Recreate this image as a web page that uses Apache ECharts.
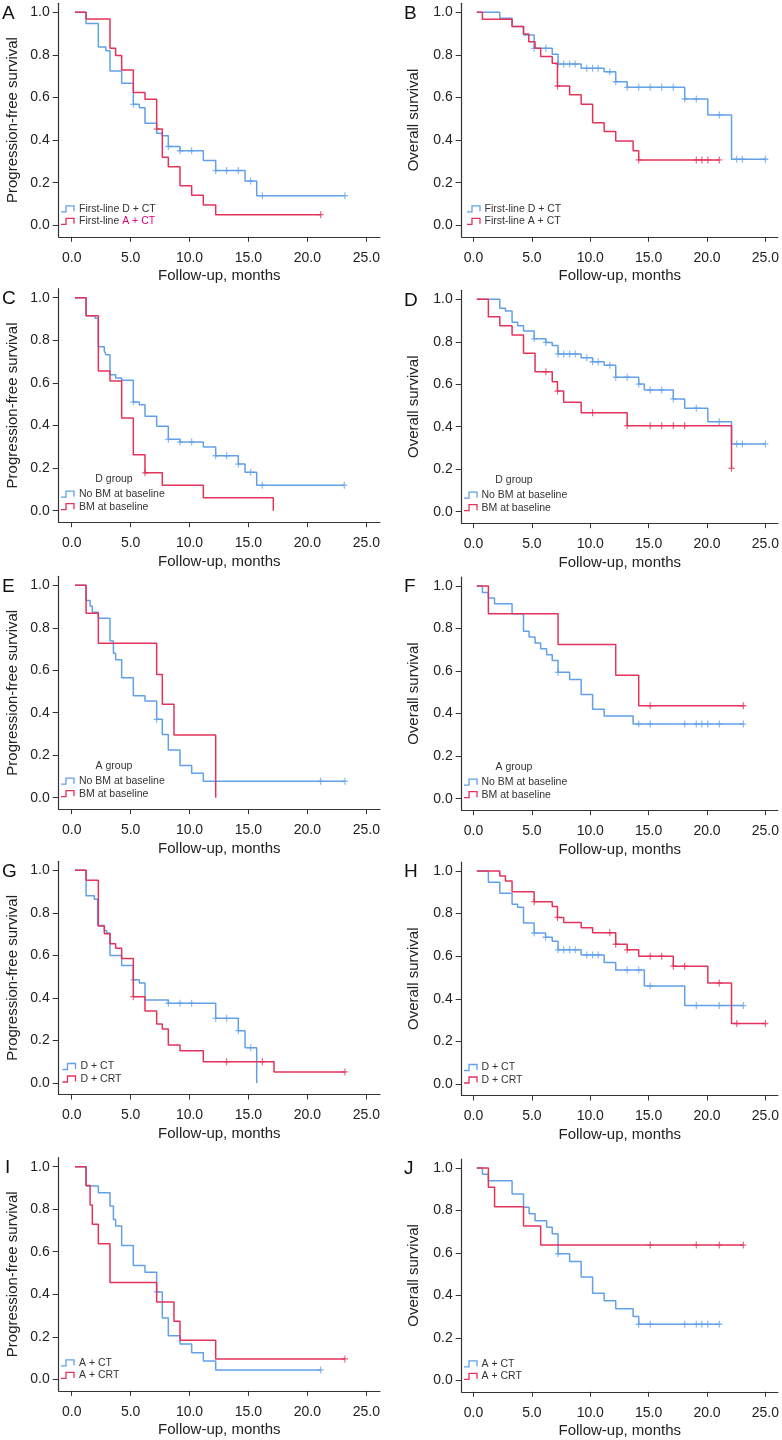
<!DOCTYPE html>
<html>
<head>
<meta charset="utf-8">
<script src="https://cdn.jsdelivr.net/npm/echarts@6/dist/echarts.min.js"></script>
<style>
  html, body { margin: 0; padding: 0; background: #fff; }
  #chart { width: 782px; height: 1440px; }
</style>
</head>
<body>
<div id="chart"></div>
<script>
// tick labels
const xTicks = [0, 5, 10, 15, 20, 25];
const yTicks = [0, 0.2, 0.4, 0.6, 0.8, 1.0];

// KM steps: [month, survival after that time]; censor times in months
// A - PFS, first-line
const aDct = [[0.28,1],[1.22,0.947],[2.26,0.837],[2.9,0.82],[3.25,0.725],[4.24,0.667],[5.23,0.568],[5.74,0.552],[6.22,0.479],[7.21,0.432],[7.69,0.42],[8.2,0.37],[9.19,0.35],[11.17,0.304],[12.22,0.257],[14.71,0.208],[15.7,0.139],[23.19,0.139]];
const aDctCens = [5.23, 8.2, 9.19, 10.18, 12.22, 13.15, 14.14, 15.19, 16.18, 23.19];
const aAct = [[0.28,1],[1.22,0.969],[3.25,0.831],[3.73,0.797],[4.24,0.729],[5.23,0.623],[6.22,0.592],[7.21,0.452],[7.69,0.319],[8.2,0.275],[9.19,0.186],[10.18,0.141],[11.17,0.095],[12.22,0.05],[21.13,0.05]];
const aActCens = [7.21, 21.13];

// B - OS, first-line
const bDct = [[0.28,1],[2.25,0.972],[3.3,0.933],[4.28,0.894],[5.19,0.831],[6.74,0.803],[7.24,0.757],[9.22,0.737],[11.19,0.721],[12.18,0.674],[13.16,0.648],[18.09,0.593],[20.07,0.518],[22.1,0.31],[25.0,0.31]];
const bDctCens = [5.19, 6.2, 7.24, 7.72, 8.23, 8.71, 9.7, 10.2, 10.68, 11.67, 12.18, 13.16, 14.15, 15.13, 16.12, 17.11, 18.09, 19.08, 21.05, 22.55, 23.03, 25.0];
const bAct = [[0.28,1],[0.76,0.967],[3.3,0.933],[4.28,0.898],[4.73,0.862],[5.27,0.831],[5.75,0.792],[6.74,0.761],[7.19,0.654],[8.23,0.613],[9.22,0.568],[10.2,0.482],[11.19,0.44],[12.18,0.396],[13.67,0.35],[14.15,0.307],[21.05,0.307]];
const bActCens = [7.19, 14.15, 19.08, 19.56, 20.07, 21.05];

// C - PFS, D group by BM
const cNoBm = [[0.28,1],[1.22,0.915],[1.98,0.903],[2.26,0.77],[2.77,0.75],[2.91,0.732],[3.25,0.638],[3.73,0.623],[4.24,0.612],[5.23,0.51],[5.74,0.498],[6.22,0.443],[7.21,0.397],[8.2,0.335],[9.19,0.322],[11.17,0.299],[12.22,0.258],[14.14,0.219],[14.71,0.18],[15.7,0.12],[23.13,0.12]];
const cNoBmCens = [5.23, 8.2, 9.19, 10.18, 12.22, 13.15, 14.14, 15.19, 16.18, 23.13];
const cBm = [[0.28,1],[1.22,0.915],[2.26,0.656],[3.25,0.609],[4.24,0.435],[5.23,0.263],[6.22,0.178],[7.69,0.119],[11.17,0.061],[17.11,0]];
const cBmCens = [6.22];

// D - OS, D group by BM
const dNoBm = [[0.28,1],[2.25,0.958],[2.73,0.945],[3.3,0.892],[3.78,0.876],[4.28,0.851],[5.19,0.814],[6.2,0.797],[6.74,0.782],[7.24,0.743],[9.22,0.725],[10.2,0.706],[11.19,0.69],[12.18,0.633],[14.15,0.601],[14.63,0.573],[17.11,0.531],[18.09,0.487],[20.07,0.424],[22.1,0.319],[25.0,0.319]];
const dNoBmCens = [5.19, 6.2, 7.24, 7.72, 8.23, 8.71, 9.7, 10.2, 10.68, 11.67, 12.18, 13.16, 14.15, 15.13, 16.12, 17.11, 19.08, 21.05, 22.55, 23.03, 25.0];
const dBm = [[0.28,1],[1.27,0.918],[2.25,0.876],[3.3,0.832],[4.28,0.746],[5.27,0.659],[6.74,0.612],[7.19,0.568],[7.72,0.515],[9.22,0.466],[13.16,0.405],[22.1,0.204]];
const dBmCens = [6.2, 7.19, 10.2, 13.16, 15.13, 16.12, 17.11, 18.09, 22.1];

// E - PFS, A group by BM
const eNoBm = [[0.28,1],[1.22,0.928],[1.56,0.903],[1.75,0.873],[2.26,0.845],[3.25,0.738],[3.54,0.68],[3.73,0.65],[4.24,0.565],[5.23,0.48],[6.22,0.455],[7.21,0.369],[7.69,0.298],[8.2,0.224],[9.19,0.152],[10.18,0.115],[11.17,0.078],[23.19,0.078]];
const eNoBmCens = [7.21, 21.13, 23.19];
const eBm = [[0.28,1],[1.22,0.868],[2.26,0.727],[7.21,0.58],[7.69,0.44],[8.68,0.295],[12.22,0]];
const eBmCens = [];

// F - OS, A group by BM
const fNoBm = [[0.28,1],[0.76,0.97],[1.27,0.944],[1.8,0.917],[3.3,0.87],[4.28,0.787],[4.76,0.76],[5.27,0.732],[5.75,0.705],[6.26,0.677],[6.74,0.65],[7.24,0.594],[8.23,0.56],[9.22,0.49],[10.2,0.42],[11.19,0.389],[13.67,0.351],[23.11,0.351]];
const fNoBmCens = [7.24, 14.15, 15.13, 18.09, 19.08, 19.56, 20.07, 21.05, 23.11];
const fBm = [[0.28,1],[1.27,0.87],[7.24,0.725],[12.18,0.58],[14.15,0.437],[23.11,0.437]];
const fBmCens = [15.13, 23.11];

// G - PFS, D + CT vs D + CRT
const gCt = [[0.28,1],[1.22,0.88],[1.92,0.864],[2.2,0.74],[2.77,0.716],[2.97,0.705],[3.25,0.6],[4.24,0.552],[5.23,0.485],[5.74,0.47],[6.22,0.39],[8.2,0.375],[12.22,0.304],[14.14,0.246],[14.71,0.166],[15.7,0]];
const gCtCens = [5.23, 8.2, 9.19, 10.18, 12.22, 13.15, 14.14, 15.19];
const gCrt = [[0.28,1],[1.22,0.953],[2.26,0.738],[2.77,0.702],[3.25,0.655],[3.73,0.633],[4.24,0.585],[5.23,0.406],[6.22,0.339],[7.21,0.277],[7.69,0.254],[8.2,0.179],[9.19,0.152],[11.17,0.1],[17.17,0.052],[23.19,0.052]];
const gCrtCens = [5.23, 13.15, 16.18, 23.19];

// H - OS, D + CT vs D + CRT
const hCt = [[0.28,1],[1.27,0.947],[2.25,0.895],[3.3,0.844],[3.78,0.83],[4.28,0.756],[5.19,0.709],[6.17,0.689],[6.74,0.67],[7.24,0.63],[9.22,0.606],[11.19,0.57],[12.18,0.535],[14.63,0.46],[18.09,0.368],[23.11,0.368]];
const hCtCens = [5.19, 6.17, 7.24, 7.72, 8.23, 8.71, 9.7, 10.2, 10.68, 13.16, 14.15, 15.13, 19.08, 21.05, 23.11];
const hCrt = [[0.28,1],[2.25,0.977],[2.73,0.953],[3.3,0.903],[5.19,0.856],[6.74,0.833],[7.19,0.782],[7.72,0.758],[9.22,0.733],[10.2,0.71],[12.18,0.656],[13.16,0.63],[14.15,0.6],[17.11,0.553],[20.07,0.474],[22.1,0.284],[25.0,0.284]];
const hCrtCens = [5.19, 7.19, 11.67, 12.18, 13.16, 15.13, 16.12, 17.11, 18.09, 21.05, 22.55, 25.0];

// I - PFS, A + CT vs A + CRT
const iCt = [[0.28,1],[1.22,0.909],[2.26,0.878],[3.25,0.815],[3.54,0.752],[3.73,0.721],[4.24,0.629],[5.23,0.535],[6.22,0.504],[7.21,0.411],[7.69,0.288],[8.2,0.205],[9.19,0.166],[10.18,0.125],[11.17,0.086],[12.22,0.044],[21.13,0.044]];
const iCtCens = [7.21, 21.13];
const iCrt = [[0.28,1],[1.22,0.911],[1.56,0.82],[1.75,0.729],[2.26,0.638],[3.25,0.455],[7.21,0.364],[8.68,0.273],[9.19,0.184],[12.22,0.096],[23.19,0.096]];
const iCrtCens = [23.19];

// J - OS, A + CT vs A + CRT
const jCt = [[0.28,1],[0.76,0.97],[1.27,0.94],[3.3,0.877],[4.28,0.815],[4.76,0.784],[5.27,0.752],[6.26,0.721],[6.74,0.69],[7.24,0.596],[8.23,0.56],[9.22,0.486],[10.2,0.41],[11.19,0.375],[12.18,0.337],[13.67,0.3],[14.15,0.264],[21.05,0.264]];
const jCtCens = [7.24, 14.15, 15.13, 18.09, 19.08, 19.56, 20.07, 21.05];
const jCrt = [[0.28,1],[1.27,0.909],[1.8,0.818],[4.28,0.727],[5.75,0.637],[23.11,0.637]];
const jCrtCens = [15.13, 19.08, 21.05, 23.11];

const PFS = 'Progression-free survival';
const OS = 'Overall survival';
const firstLine = ['First-line D + CT', '{k|First-line }{p|A + CT}'];
const firstLineB = ['First-line D + CT', 'First-line A + CT'];
const bmLabels = ['No BM at baseline', 'BM at baseline'];
const dLabels = ['D + CT', 'D + CRT'];
const aLabels = ['A + CT', 'A + CRT'];

const FONT = "'Liberation Sans', Arial, Helvetica, sans-serif";
const BLUE = '#62a1e7';
const RED = '#e3335b';
const PINK = '#e4007c';
const AXIS = '#333';

// layout: col, pixel of 1.0 and of 0.0 on the y axis
const panels = [
    { letter: 'A', col: 0, y1: 12.3,   y0: 225.3,  yName: PFS, curves: [aDct, aAct], cens: [aDctCens, aActCens], labels: firstLine },
    { letter: 'B', col: 1, y1: 12.3,   y0: 225.3,  yName: OS,  curves: [bDct, bAct], cens: [bDctCens, bActCens], labels: firstLineB, legendShift: 3 },
    { letter: 'C', col: 0, y1: 297.7,  y0: 510.7,  yName: PFS, curves: [cNoBm, cBm], cens: [cNoBmCens, cBmCens], labels: bmLabels, title: 'D group' },
    { letter: 'D', col: 1, y1: 299.3,  y0: 511.7,  yName: OS,  curves: [dNoBm, dBm], cens: [dNoBmCens, dBmCens], labels: bmLabels, title: 'D group' },
    { letter: 'E', col: 0, y1: 585.3,  y0: 797.7,  yName: PFS, curves: [eNoBm, eBm], cens: [eNoBmCens, eBmCens], labels: bmLabels, title: 'A group' },
    { letter: 'F', col: 1, y1: 586,    y0: 798.7,  yName: OS,  curves: [fNoBm, fBm], cens: [fNoBmCens, fBmCens], labels: bmLabels, title: 'A group' },
    { letter: 'G', col: 0, y1: 870.3,  y0: 1083,   yName: PFS, curves: [gCt, gCrt], cens: [gCtCens, gCrtCens], labels: dLabels, legendShift: 1.5 },
    { letter: 'H', col: 1, y1: 871,    y0: 1084,   yName: OS,  curves: [hCt, hCrt], cens: [hCtCens, hCrtCens], labels: dLabels },
    { letter: 'I', col: 0, y1: 1166.7, y0: 1379.3, yName: PFS, curves: [iCt, iCrt], cens: [iCtCens, iCrtCens], labels: aLabels },
    { letter: 'J', col: 1, y1: 1168,   y0: 1380.3, yName: OS,  curves: [jCt, jCrt], cens: [jCtCens, jCrtCens], labels: aLabels },
];

const cols = [
    { left: 58.7,  width: 321.3, min: -1.103, max: 26.163, letterX: 2,   iconX: 61,  textX: 79,    titleX: 114, yGap: 38 },
    { left: 461.7, width: 320.3, min: -1.015, max: 26.07,  letterX: 404, iconX: 464, textX: 481.5, titleX: 514, yGap: 40 },
];

function survAt(steps, t) {
    let s = steps[0][1];
    for (const p of steps) {
        if (p[0] <= t + 1e-9) s = p[1];
    }
    return s;
}

const option = { animation: false, grid: [], xAxis: [], yAxis: [], series: [], graphic: [] };

panels.forEach((p, i) => {
    const c = cols[p.col];
    const span = p.y0 - p.y1;
    const top = p.y1 - 9;
    const bottom = p.y0 + 11.5;
    option.grid.push({ left: c.left, top: top, width: c.width, height: bottom - top });

    option.xAxis.push({
        type: 'value', gridIndex: i, min: c.min, max: c.max,
        name: 'Follow-up, months', nameLocation: 'middle', nameGap: 32,
        nameTextStyle: { fontSize: 15, color: '#222', fontFamily: FONT },
        axisLine: { onZero: false, lineStyle: { color: AXIS, width: 1.2 } },
        axisTick: { show: true, length: 5, customValues: xTicks, lineStyle: { color: AXIS, width: 1 } },
        axisLabel: { customValues: xTicks, formatter: v => v.toFixed(1), fontSize: 14, color: '#222', margin: 14, fontFamily: FONT },
        splitLine: { show: false }
    });
    option.yAxis.push({
        type: 'value', gridIndex: i, min: -11.5 / span, max: 1 + 9 / span,
        name: p.yName, nameLocation: 'middle', nameGap: c.yGap,
        nameTextStyle: { fontSize: 15, color: '#222', fontFamily: FONT },
        axisLine: { show: true, onZero: false, lineStyle: { color: AXIS, width: 1.2 } },
        axisTick: { show: true, length: 6, customValues: yTicks, lineStyle: { color: AXIS, width: 1 } },
        axisLabel: { customValues: yTicks, formatter: v => v.toFixed(1), fontSize: 14, color: '#222', margin: 9, fontFamily: FONT },
        splitLine: { show: false }
    });

    const colors = [BLUE, RED];
    p.curves.forEach((curve, k) => {
        option.series.push({
            type: 'line', xAxisIndex: i, yAxisIndex: i, step: 'end',
            data: curve, showSymbol: false, silent: true,
            lineStyle: { color: colors[k], width: 1.5 }
        });
        option.series.push({
            type: 'scatter', xAxisIndex: i, yAxisIndex: i, silent: true,
            data: p.cens[k].map(t => [t, survAt(curve, t)]),
            symbol: 'path://M0,5L10,5M5,0L5,10', symbolSize: [6, 7],
            itemStyle: { color: colors[k], borderColor: colors[k], borderWidth: 1.2 }
        });
    });

    // panel letter
    option.graphic.push({
        type: 'text', x: p.letter === 'I' ? c.letterX + 3 : c.letterX, y: p.y1 + 1,
        style: { text: p.letter, fontSize: 19, fontFamily: FONT, fill: '#111', verticalAlign: 'middle' }
    });

    // legend
    const shift = p.legendShift || 0;
    const rows = [p.y0 - 16.5, p.y0 - 4];
    if (p.title) {
        option.graphic.push({
            type: 'text', x: c.titleX, y: p.y0 - 32,
            style: { text: p.title, fontSize: 10.5, fontFamily: FONT, fill: '#333', align: 'center', verticalAlign: 'middle' }
        });
    }
    rows.forEach((yc, k) => {
        const x0 = c.iconX + shift;
        option.graphic.push({
            type: 'polyline',
            shape: { points: [[x0, yc + 3], [x0 + 5, yc + 3], [x0 + 5, yc - 3], [x0 + 13, yc - 3], [x0 + 13, yc + 2.5]] },
            style: { stroke: colors[k], lineWidth: 1.3, fill: null }
        });
        option.graphic.push({
            type: 'text', x: c.textX + shift, y: yc,
            style: {
                text: p.labels[k], fontSize: 10.5, fontFamily: FONT, fill: '#333', verticalAlign: 'middle',
                rich: {
                    k: { fontSize: 10.5, fontFamily: FONT, fill: '#333' },
                    p: { fontSize: 10.5, fontFamily: FONT, fill: PINK }
                }
            }
        });
    });
});

const chart = echarts.init(document.getElementById('chart'), null, { renderer: 'canvas' });
chart.setOption(option);
</script>
</body>
</html>
